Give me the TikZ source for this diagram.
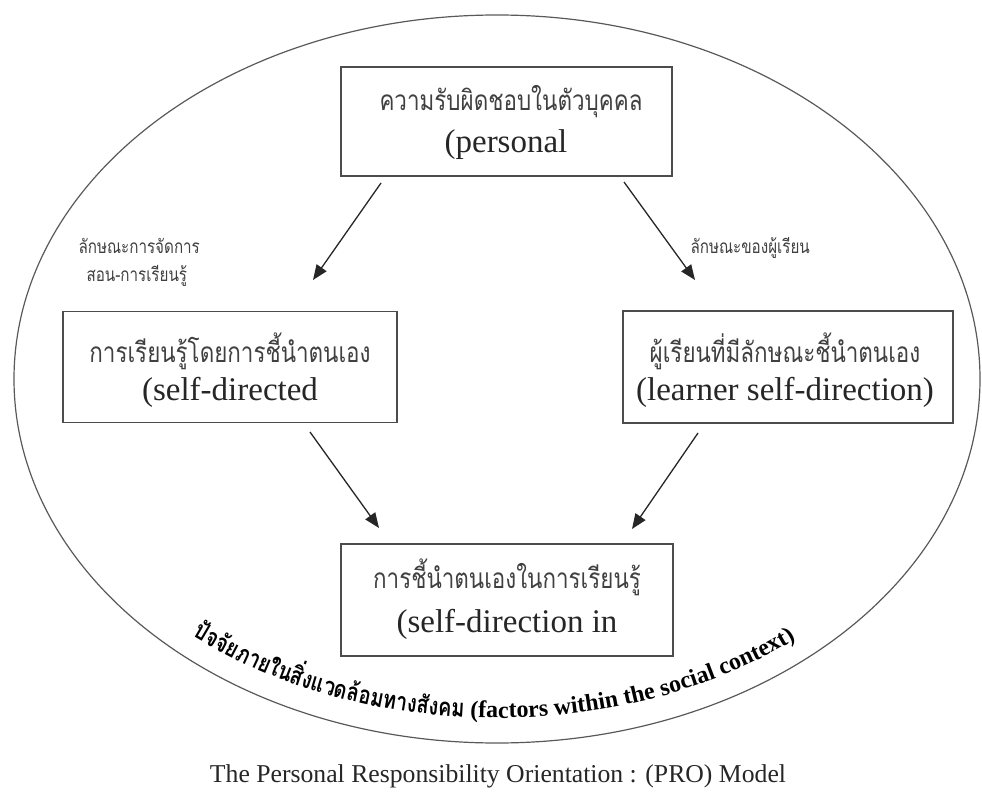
\documentclass[tikz,border=0pt]{standalone}
\usepackage{fontspec}
\setmainfont{Liberation Serif}
\newfontfamily\thai[Script=Thai,FakeStretch=0.8]{Loma}
\usetikzlibrary{arrows.meta,decorations.text,shapes.geometric}
\begin{document}
\begin{tikzpicture}[x=1pt,y=-1pt,
  boxstyle/.style={draw=black!70, line width=1.5pt, inner sep=0pt},
  thaitext/.style={font=\thai\fontsize{28}{32}\selectfont, text=black!75, anchor=base},
  entext/.style={font=\fontsize{33}{38}\selectfont, text=black!85, anchor=base},
  lbl/.style={font=\thai\fontsize{19}{22}\selectfont, text=black!75, anchor=base west},
  arr/.style={line width=1.3pt, draw=black!85, -{Triangle[length=15pt,width=12pt]}}]
\useasboundingbox (0,0) rectangle (982,794);
% outer oval
\node[draw=black!65, line width=1.2pt, ellipse, minimum width=966pt, minimum height=728pt, inner sep=0pt] (oval) at (497,379) {};
% boxes
\node[boxstyle, minimum width=331pt, minimum height=109pt] (topbox) at (506.5,121.5) {};
\node[boxstyle, minimum width=334pt, minimum height=111pt] (leftbox) at (230,367) {};
\node[boxstyle, minimum width=330pt, minimum height=112pt] (rightbox) at (788,367) {};
\node[boxstyle, minimum width=332pt, minimum height=112pt] (botbox) at (507,600) {};
% texts
\node[thaitext] (t1) at (511,111) {ความรับผิดชอบในตัวบุคคล};
\node[entext] (e1) at (506,153) {(personal};
\node[thaitext] (t2) at (230,362) {การเรียนรู้โดยการชี้นำตนเอง};
\node[entext] (e2) at (230,400) {(self-directed};
\node[thaitext] (t3) at (785,362) {ผู้เรียนที่มีลักษณะชี้นำตนเอง};
\node[entext] (e3) at (785,400) {(learner self-direction)};
\node[thaitext] (t4) at (507,588) {การชี้นำตนเองในการเรียนรู้};
\node[entext] (e4) at (507,632) {(self-direction in};
% labels
\node[lbl] (l1) at (75,254) {ลักษณะการจัดการ};
\node[lbl] (l2) at (83,281) {สอน-การเรียนรู้};
\node[lbl] (l3) at (687,254) {ลักษณะของผู้เรียน};
% arrows
\coordinate (a1s) at (381,183); \coordinate (a1e) at (313,280);
\coordinate (a2s) at (624,182); \coordinate (a2e) at (695,280);
\coordinate (a3s) at (310,432); \coordinate (a3e) at (379,528);
\coordinate (a4s) at (698,433); \coordinate (a4e) at (632,529);
\draw[arr] (a1s) -- (a1e);
\draw[arr] (a2s) -- (a2e);
\draw[arr] (a3s) -- (a3e);
\draw[arr] (a4s) -- (a4e);
% curved text
\path[decorate, decoration={text along path, text align=center,
  text={|\thai\bfseries\fontsize{25}{30}\selectfont|{ปัจ}{จัย}{ภา}{ย}{ใน}{สิ่ง}{แว}{ด}{ล้อ}{ม}{ทา}{ง}{สัง}{ค}{ม}|\bfseries\fontsize{24}{28}\selectfont| (factors within the social context)}}]
  (497,379) ++(146:466 and 339) arc[start angle=146, end angle=35, x radius=466, y radius=339];
% caption
\node[font=\fontsize{25.7}{30}\selectfont, text=black!85, anchor=base] (cap) at (498,782) {The Personal Responsibility Orientation : (PRO) Model};
\end{tikzpicture}
\end{document}
